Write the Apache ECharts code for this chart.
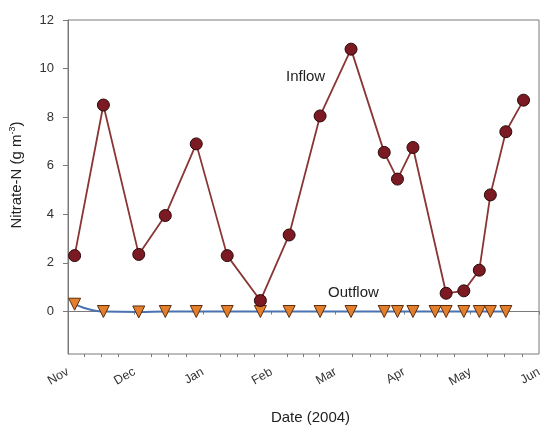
<!DOCTYPE html>
<html>
<head>
<meta charset="utf-8">
<script src="https://cdn.jsdelivr.net/npm/echarts@6/dist/echarts.min.js"></script>
<style>html,body{margin:0;padding:0;background:#fff}#c{width:549px;height:430px}</style>
</head>
<body>
<div id="c"></div>
<script>
var inflowDates = ['2003-11-04','2003-11-17','2003-12-03','2003-12-15','2003-12-29','2004-01-12','2004-01-27','2004-02-09','2004-02-23','2004-03-08','2004-03-23','2004-03-29','2004-04-05','2004-04-20','2004-04-28','2004-05-05','2004-05-10','2004-05-17','2004-05-25'];
var inflowValues = [2.3, 8.5, 2.35, 3.95, 6.9, 2.3, 0.45, 3.15, 8.05, 10.8, 6.55, 5.45, 6.75, 0.75, 0.85, 1.7, 4.8, 7.4, 8.7];
var outflowDates = ['2003-11-04','2003-11-17','2003-12-03','2003-12-15','2003-12-29','2004-01-12','2004-01-27','2004-02-09','2004-02-23','2004-03-08','2004-03-23','2004-03-29','2004-04-05','2004-04-15','2004-04-20','2004-04-28','2004-05-05','2004-05-10','2004-05-17'];
var outflowValues = [0.3, 0.0, -0.02, 0, 0, 0, 0, 0, 0, 0, 0, 0, 0, 0, 0, 0, 0, 0, 0];
var monthStarts = ['2003-11-01','2003-12-01','2004-01-01','2004-02-01','2004-03-01','2004-04-01','2004-05-01','2004-06-01'];
var monthLabels = ['Nov','Dec','Jan','Feb','Mar','Apr','May','Jun'];
var yTicks = [0, 2, 4, 6, 8, 10, 12];

var DAY = 86400000;
function ts(s){ var p = s.split('-'); return Date.UTC(+p[0], +p[1]-1, +p[2]) / DAY; }
var monthTs = monthStarts.map(ts);
var quarterTs = [];
for (var i = 0; i < monthTs.length - 1; i++) {
  var len = monthTs[i+1] - monthTs[i];
  for (var k = 1; k < 4; k++) quarterTs.push(monthTs[i] + len * k / 4);
}
function pair(d, v){ return d.map(function(x, i){ return [ts(x), v[i]]; }); }

var chart = echarts.init(document.getElementById('c'));
var axisColor = '#7a7a7a';
var fontFam = 'Liberation Sans, Arial, sans-serif';
chart.setOption({
  animation: false,
  textStyle: { fontFamily: fontFam },
  grid: { left: 67, right: 10, top: 20, bottom: 72, show: true, borderColor: axisColor, borderWidth: 1 },
  xAxis: [{
    type: 'value', min: monthTs[0], max: monthTs[monthTs.length-1],
    name: 'Date (2004)', nameLocation: 'middle', nameGap: 56,
    nameTextStyle: { fontSize: 15, color: '#222', fontFamily: fontFam, padding: [0, 0, 0, 14] },
    axisLine: { lineStyle: { color: axisColor } },
    axisTick: { show: true, length: 3, customValues: monthTs, lineStyle: { color: axisColor } },
    axisLabel: {
      customValues: monthTs, rotate: 30, fontSize: 12.5, color: '#333', margin: 17,
      formatter: function(v){ var i = monthTs.indexOf(v); return i >= 0 ? monthLabels[i] : ''; }
    },
    splitLine: { show: false }
  }, {
    type: 'value', min: monthTs[0], max: monthTs[monthTs.length-1], position: 'bottom',
    axisLine: { show: false },
    axisTick: { show: true, length: 3, customValues: quarterTs, lineStyle: { color: axisColor } },
    axisLabel: { show: false },
    splitLine: { show: false }
  }],
  yAxis: {
    type: 'value', min: -1.75, max: 12,
    name: 'Nitrate-N (g m{sup|-3})', nameLocation: 'middle', nameGap: 43,
    nameTextStyle: { fontSize: 15, color: '#222', fontFamily: fontFam, padding: [0, 0, 0, 24],
      rich: { sup: { fontSize: 9, color: '#222', padding: [0, 0, 8, 0], fontFamily: fontFam } } },
    axisLine: { show: true, lineStyle: { color: axisColor } },
    axisTick: { show: true, length: 5, customValues: yTicks, lineStyle: { color: axisColor } },
    axisLabel: { customValues: yTicks, fontSize: 13, color: '#333', margin: 14 },
    splitLine: { show: false }
  },
  series: [{
    name: 'Outflow', type: 'line', smooth: true, data: pair(outflowDates, outflowValues),
    lineStyle: { color: '#4a72b0', width: 2 },
    symbol: 'triangle', symbolRotate: 180, symbolSize: 12,
    itemStyle: { color: '#e37f2b', borderColor: '#5a2d10', borderWidth: 1 }
  }, {
    name: 'Inflow', type: 'line', data: pair(inflowDates, inflowValues),
    lineStyle: { color: '#8a3535', width: 1.8 },
    symbol: 'circle', symbolSize: 12,
    itemStyle: { color: '#7b1a22', borderColor: '#2a0808', borderWidth: 1 }
  }],
  graphic: [
    { type: 'text', left: 286, top: 69, style: { text: 'Inflow', fontSize: 15, fill: '#222', fontFamily: fontFam } },
    { type: 'text', left: 328, top: 285, style: { text: 'Outflow', fontSize: 15, fill: '#222', fontFamily: fontFam } }
  ]
});
</script>
</body>
</html>
